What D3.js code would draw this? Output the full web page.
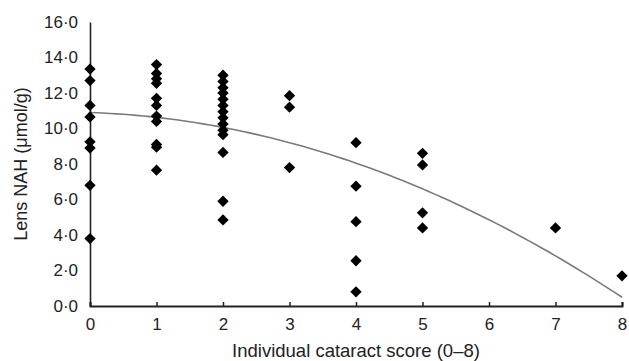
<!DOCTYPE html>
<html>
<head>
<meta charset="utf-8">
<script src="https://cdn.jsdelivr.net/npm/d3@7"></script>
<style>
  html, body { margin: 0; padding: 0; background: #fff; }
  svg { display: block; font-family: "Liberation Sans", Arial, sans-serif; }
</style>
</head>
<body>
<svg id="chart" width="629" height="361"></svg>
<script>
// data
const scoreTicks = [0, 1, 2, 3, 4, 5, 6, 7, 8];
const nahTicks = [0, 2, 4, 6, 8, 10, 12, 14, 16];

const scores = [
  0, 0, 0, 0, 0, 0, 0, 0,
  1, 1, 1, 1, 1, 1, 1, 1, 1, 1, 1,
  2, 2, 2, 2, 2, 2, 2, 2, 2, 2, 2, 2, 2, 2,
  3, 3, 3,
  4, 4, 4, 4, 4,
  5, 5, 5, 5,
  7,
  8
];
const nah = [
  13.35, 12.7, 11.3, 10.65, 9.25, 8.9, 6.8, 3.8,
  13.6, 13.1, 12.8, 12.55, 11.7, 11.3, 10.7, 10.4, 9.1, 8.95, 7.65,
  13.0, 12.65, 12.3, 12.0, 11.65, 11.3, 10.95, 10.6, 10.25, 9.9, 9.65, 8.65, 5.9, 4.85,
  11.85, 11.2, 7.8,
  9.2, 6.75, 4.75, 2.55, 0.8,
  8.6, 7.95, 5.25, 4.4,
  4.4,
  1.7
];

// quadratic trend line coefficients
const trend = { a: 10.9, b: -0.125, c: -0.147 };

const svg = d3.select("#chart"),
      margin = { top: 22, right: 7, bottom: 55, left: 90 },
      width  = 629 - margin.left - margin.right,
      height = 361 - margin.top - margin.bottom;

const g = svg.append("g")
  .attr("transform", `translate(${margin.left},${margin.top})`);

const x = d3.scaleLinear().domain([0, 8]).range([0, width]);
const y = d3.scaleLinear().domain([0, 16]).range([height, 0]);

const fmt = d => d3.format(".1f")(d).replace(".", "\u00B7");

// trend curve
const curvePts = d3.range(0, 8.001, 0.1).map(s => ({
  s, v: trend.a + trend.b * s + trend.c * s * s
}));
g.append("path")
  .datum(curvePts)
  .attr("fill", "none")
  .attr("stroke", "#7a7a7a")
  .attr("stroke-width", 1.6)
  .attr("d", d3.line().x(d => x(d.s)).y(d => y(d.v)));

// y axis
const yAxis = g.append("g")
  .call(d3.axisLeft(y).tickValues(nahTicks).tickSize(0).tickPadding(12).tickFormat(fmt));
yAxis.select(".domain").attr("stroke", "#222").attr("stroke-width", 1.6);
yAxis.selectAll("text")
  .attr("fill", "#222")
  .style("font-size", "17px");

// x axis
const xAxis = g.append("g")
  .attr("transform", `translate(0,${height})`)
  .call(d3.axisBottom(x).tickValues(scoreTicks).tickSize(-4).tickPadding(12).tickFormat(d3.format("d")));
xAxis.select(".domain").attr("stroke", "#222").attr("stroke-width", 2);
xAxis.selectAll(".tick line").attr("stroke", "#222").attr("stroke-width", 1.5);
xAxis.selectAll("text")
  .attr("fill", "#222")
  .style("font-size", "17px");

// points
g.selectAll(".pt")
  .data(scores.map((s, i) => ({ s, v: nah[i] })))
  .enter().append("path")
  .attr("class", "pt")
  .attr("d", d3.symbol(d3.symbolSquare, 64)())
  .attr("transform", d => `translate(${x(d.s)},${y(d.v)}) rotate(45)`)
  .attr("fill", "#000");

// axis titles
svg.append("text")
  .attr("x", margin.left + width / 2)
  .attr("y", 357)
  .attr("text-anchor", "middle")
  .attr("fill", "#222")
  .style("font-size", "18.5px")
  .text("Individual cataract score (0\u20138)");

svg.append("text")
  .attr("transform", `translate(27,${margin.top + height / 2}) rotate(-90)`)
  .attr("text-anchor", "middle")
  .attr("fill", "#222")
  .style("font-size", "18px")
  .text("Lens NAH (\u03BCmol/g)");
</script>
</body>
</html>
